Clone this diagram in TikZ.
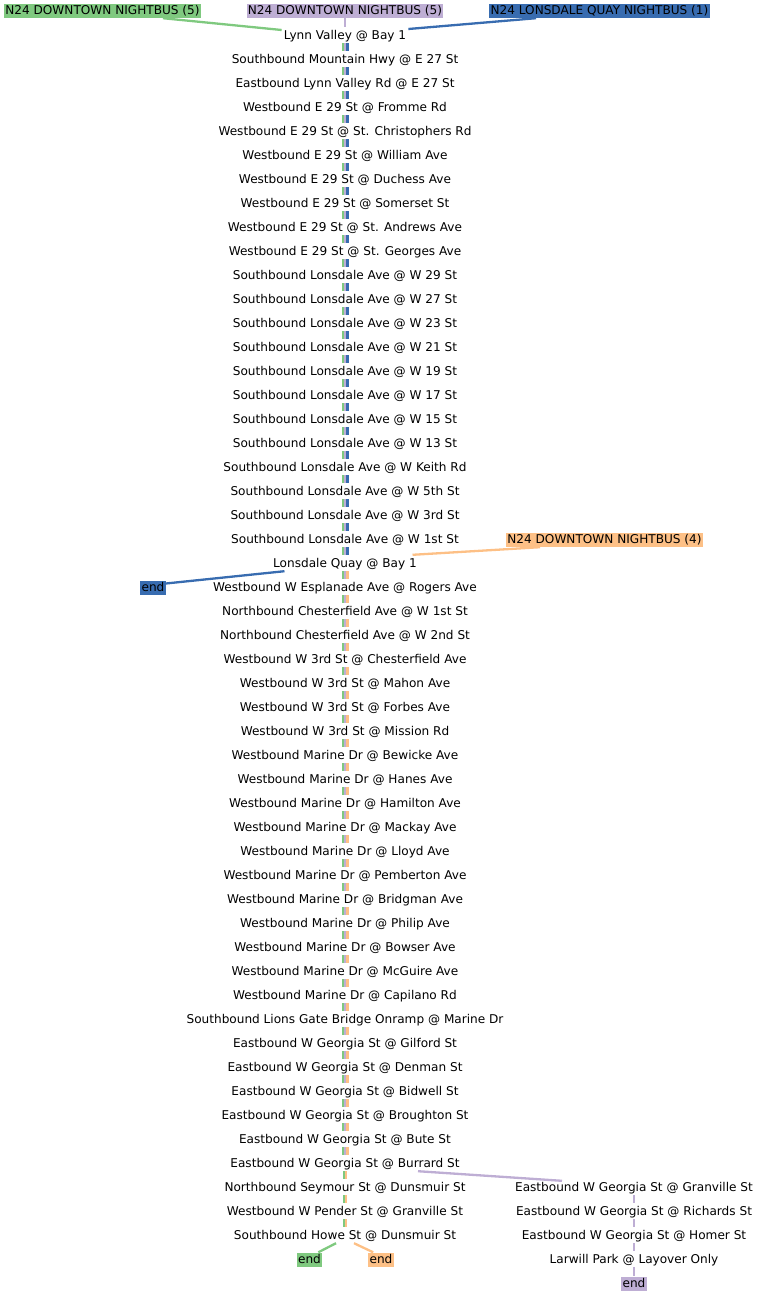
\documentclass[tikz,border=0pt]{standalone}
\usepackage{fontspec}
\setmainfont{DejaVu Sans}
\definecolor{cgreen}{HTML}{7FC97F}
\definecolor{cpurple}{HTML}{BEAED4}
\definecolor{corange}{HTML}{FDC086}
\definecolor{cblue}{HTML}{386CB0}
\newcommand{\stopfont}{\fontsize{12.1bp}{14bp}\selectfont}
\begin{document}
\begin{tikzpicture}[x=1bp,y=-1bp,
  stopnode/.style={font=\stopfont, inner xsep=2bp, inner ysep=0pt, text height=9.5bp, text depth=1.5bp, minimum height=16bp},
  routelabel/.style={font=\stopfont, inner xsep=1.2bp, inner ysep=0pt, text height=9.2bp, text depth=1.8bp, minimum height=14bp, fill=#1},
  gline/.style={draw=cgreen, line width=2.3bp},
  pline/.style={draw=cpurple, line width=2.3bp},
  bline/.style={draw=cblue, line width=2.3bp},
  oline/.style={draw=corange, line width=2.3bp}]
\useasboundingbox (0,0) rectangle (759,1296);
% main column stops
\foreach \t [count=\i from 0] in {
Lynn Valley @ Bay 1,
Southbound Mountain Hwy @ E 27 St,
Eastbound Lynn Valley Rd @ E 27 St,
Westbound E 29 St @ Fromme Rd,
Westbound E 29 St @ St. Christophers Rd,
Westbound E 29 St @ William Ave,
Westbound E 29 St @ Duchess Ave,
Westbound E 29 St @ Somerset St,
Westbound E 29 St @ St. Andrews Ave,
Westbound E 29 St @ St. Georges Ave,
Southbound Lonsdale Ave @ W 29 St,
Southbound Lonsdale Ave @ W 27 St,
Southbound Lonsdale Ave @ W 23 St,
Southbound Lonsdale Ave @ W 21 St,
Southbound Lonsdale Ave @ W 19 St,
Southbound Lonsdale Ave @ W 17 St,
Southbound Lonsdale Ave @ W 15 St,
Southbound Lonsdale Ave @ W 13 St,
Southbound Lonsdale Ave @ W Keith Rd,
Southbound Lonsdale Ave @ W 5th St,
Southbound Lonsdale Ave @ W 3rd St,
Southbound Lonsdale Ave @ W 1st St,
Lonsdale Quay @ Bay 1,
Westbound W Esplanade Ave @ Rogers Ave,
Northbound Chesterfield Ave @ W 1st St,
Northbound Chesterfield Ave @ W 2nd St,
Westbound W 3rd St @ Chesterfield Ave,
Westbound W 3rd St @ Mahon Ave,
Westbound W 3rd St @ Forbes Ave,
Westbound W 3rd St @ Mission Rd,
Westbound Marine Dr @ Bewicke Ave,
Westbound Marine Dr @ Hanes Ave,
Westbound Marine Dr @ Hamilton Ave,
Westbound Marine Dr @ Mackay Ave,
Westbound Marine Dr @ Lloyd Ave,
Westbound Marine Dr @ Pemberton Ave,
Westbound Marine Dr @ Bridgman Ave,
Westbound Marine Dr @ Philip Ave,
Westbound Marine Dr @ Bowser Ave,
Westbound Marine Dr @ McGuire Ave,
Westbound Marine Dr @ Capilano Rd,
Southbound Lions Gate Bridge Onramp @ Marine Dr,
Eastbound W Georgia St @ Gilford St,
Eastbound W Georgia St @ Denman St,
Eastbound W Georgia St @ Bidwell St,
Eastbound W Georgia St @ Broughton St,
Eastbound W Georgia St @ Bute St,
Eastbound W Georgia St @ Burrard St,
Northbound Seymour St @ Dunsmuir St,
Westbound W Pender St @ Granville St,
Southbound Howe St @ Dunsmuir St}
  \node[stopnode] (s\i) at (345,{35+24*\i}) {\t};
% right column stops
\foreach \t [count=\i from 0] in {
Eastbound W Georgia St @ Granville St,
Eastbound W Georgia St @ Richards St,
Eastbound W Georgia St @ Homer St,
Larwill Park @ Layover Only}
  \node[stopnode] (r\i) at (634,{1187+24*\i}) {\t};
% route labels
\node[routelabel=cgreen] (gl) at (102.5,11) {N24 DOWNTOWN NIGHTBUS (5)};
\node[routelabel=cpurple] (pl) at (345,11) {N24 DOWNTOWN NIGHTBUS (5)};
\node[routelabel=cblue] (bl) at (599.5,11) {N24 LONSDALE QUAY NIGHTBUS (1)};
\node[routelabel=corange] (ol) at (604.5,540) {N24 DOWNTOWN NIGHTBUS (4)};
% end markers
\node[routelabel=cblue] (bend) at (153,587.5) {end};
\node[routelabel=cgreen] (gend) at (309.5,1259.5) {end};
\node[routelabel=corange] (oend) at (381,1259.5) {end};
\node[routelabel=cpurple] (pend) at (634,1283.5) {end};
% connectors from route labels
\draw[gline] ([xshift=60.5bp]gl.south) -- ([yshift=5bp]s0.west);
\draw[pline] (pl) -- (s0);
\draw[bline] ([xshift=-63.5bp]bl.south) -- ([yshift=6bp]s0.east);
\draw[oline] ([xshift=-64.5bp]ol.south) -- ([xshift=-6.5bp]s22.north east);
% bundles of parallel lines between consecutive stops
\foreach \i in {0,...,21} {
  \pgfmathtruncatemacro{\j}{\i+1}
  \draw[gline] ([xshift=-2.35bp]s\i.south) -- ([xshift=-2.35bp]s\j.north);
  \draw[pline] (s\i.south) -- (s\j.north);
  \draw[bline] ([xshift=2.35bp]s\i.south) -- ([xshift=2.35bp]s\j.north);
}
\foreach \i in {22,...,46} {
  \pgfmathtruncatemacro{\j}{\i+1}
  \draw[gline] ([xshift=-2.35bp]s\i.south) -- ([xshift=-2.35bp]s\j.north);
  \draw[pline] (s\i.south) -- (s\j.north);
  \draw[oline] ([xshift=2.35bp]s\i.south) -- ([xshift=2.35bp]s\j.north);
}
\foreach \i in {47,48,49} {
  \pgfmathtruncatemacro{\j}{\i+1}
  \draw[gline] ([xshift=-1.3bp]s\i.south) -- ([xshift=-1.3bp]s\j.north);
  \draw[oline] ([xshift=1.3bp]s\i.south) -- ([xshift=1.3bp]s\j.north);
}
% branches and ends
\draw[bline] ([xshift=13.5bp]s22.south west) -- ([yshift=4bp]bend.east);
\draw[pline] ([xshift=73bp]s47.south) -- ([xshift=-72bp,yshift=-2bp]r0.north);
\foreach \i in {0,1,2} {
  \pgfmathtruncatemacro{\j}{\i+1}
  \draw[pline] (r\i.south) -- (r\j.north);
}
\draw[pline] (r3.south) -- (pend.north);
\draw[gline] ([xshift=-9bp]s50.south) -- ([xshift=-4bp]gend.north east);
\draw[oline] ([xshift=9bp]s50.south) -- ([xshift=5bp]oend.north west);
\end{tikzpicture}
\end{document}
